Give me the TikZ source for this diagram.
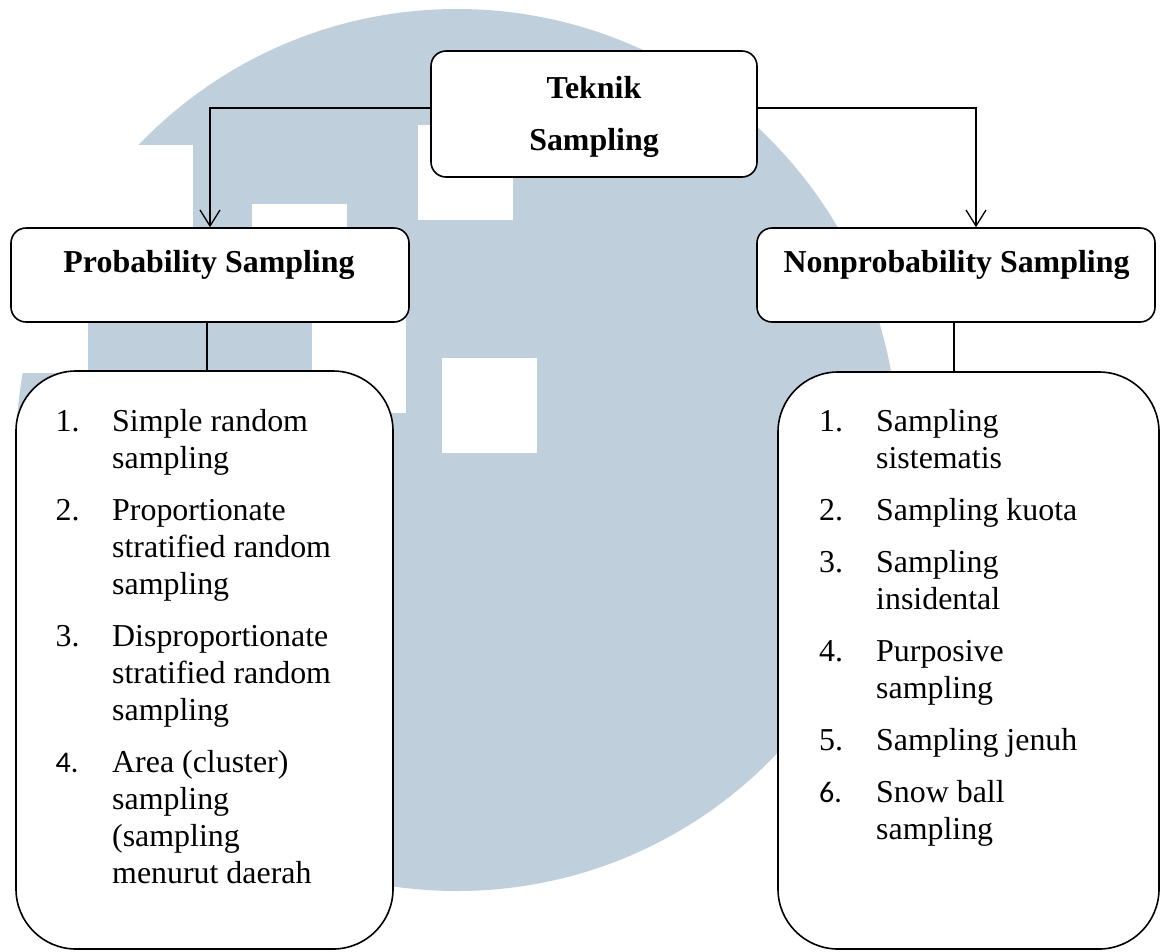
\documentclass[tikz,border=0pt]{standalone}
\usepackage{fontspec}
\setmainfont{Liberation Serif}
\newfontfamily\calfont{Carlito}
\usetikzlibrary{arrows.meta}
\definecolor{wm}{RGB}{192,207,220}
\tikzset{
  box/.style={draw=black, line width=1.6pt, fill=white, rounded corners=15pt, inner sep=0pt},
  listbox/.style={draw=black, line width=1.6pt, fill=white, rounded corners=60pt, inner sep=0pt},
  hdr/.style={font=\fontsize{31.9}{36}\selectfont\bfseries, anchor=base, inner sep=0pt},
  itm/.style={font=\fontsize{31.9}{36}\selectfont, anchor=base west, inner sep=0pt},
  calnum/.style={font=\fontsize{30}{36}\selectfont\calfont, anchor=base west, inner sep=0pt},
  conn/.style={draw=black, line width=1.3pt},
  arr/.style={conn, -{Straight Barb[length=16pt,width=20pt,line width=1.3pt]}},
  wsq/.style={fill=white, draw=none},
}
\begin{document}
\begin{tikzpicture}[x=1pt,y=-1pt]
\useasboundingbox (0,0) rectangle (1162,951);
% watermark
\fill[wm] (457,450) circle[radius=441];
\fill[wsq] (0,145) rectangle (193,250);
\fill[wsq] (0,250) rectangle (88,373);
\fill[wsq] (252,204) rectangle (347,299);
\fill[wsq] (312,318) rectangle (406,413);
\fill[wsq] (418,125) rectangle (513,220);
\fill[wsq] (442,358) rectangle (537,453);
% boxes
\node[box, minimum width=326pt, minimum height=126pt] (T) at (594,114) {};
\node[box, minimum width=398pt, minimum height=94pt] (P) at (210,275) {};
\node[box, minimum width=398pt, minimum height=94pt] (N) at (956,275) {};
\node[listbox, minimum width=377pt, minimum height=578pt] (L) at (204.5,660) {};
\node[listbox, minimum width=381pt, minimum height=577pt] (R) at (968.5,660.5) {};
% headers
\node[hdr] (t1) at (594,98) {Teknik};
\node[hdr] (t2) at (594,150) {Sampling};
\node[hdr] (p1) at (209,272.7) {Probability Sampling};
\node[hdr] (n1) at (956.5,272.7) {Nonprobability Sampling};
% connectors
\coordinate (tl) at ([yshift=6pt]T.west);
\coordinate (tr) at ([yshift=6pt]T.east);
\coordinate (na) at ([xshift=20pt]N.north);
\draw[arr] (tl) -| (P.north);
\draw[arr] (tr) -| (na);
\draw[conn] ([xshift=-3pt]P.south) -- ([xshift=-3pt]P.south |- L.north);
\draw[conn] ([xshift=-2pt]N.south) -- ([xshift=-2pt]N.south |- R.north);
% left list
\node[itm] (ln1) at (55.5,431.6) {1.};
\node[itm] (la1) at (112,431.6) {Simple random};
\node[itm] (la2) at (112,468.6) {sampling};
\node[itm] (ln2) at (55.5,520.6) {2.};
\node[itm] (lb1) at (112,520.6) {Proportionate};
\node[itm] (lb2) at (112,557.6) {stratified random};
\node[itm] (lb3) at (112,594.6) {sampling};
\node[itm] (ln3) at (55.5,646.6) {3.};
\node[itm] (lc1) at (112,646.6) {Disproportionate};
\node[itm] (lc2) at (112,683.6) {stratified random};
\node[itm] (lc3) at (112,720.6) {sampling};
\node[calnum] (ln4) at (55.5,772.6) {4.};
\node[itm] (ld1) at (112,772.6) {Area (cluster)};
\node[itm] (ld2) at (112,809.6) {sampling};
\node[itm] (ld3) at (112,846.6) {(sampling};
\node[itm] (ld4) at (112,883.6) {menurut daerah};
% right list
\node[itm] (rn1) at (819,431.6) {1.};
\node[itm] (ra1) at (876,431.6) {Sampling};
\node[itm] (ra2) at (876,468.6) {sistematis};
\node[itm] (rn2) at (819,520.6) {2.};
\node[itm] (rb1) at (876,520.6) {Sampling kuota};
\node[itm] (rn3) at (819,572.6) {3.};
\node[itm] (rc1) at (876,572.6) {Sampling};
\node[itm] (rc2) at (876,609.6) {insidental};
\node[itm] (rn4) at (819,661.6) {4.};
\node[itm] (rd1) at (876,661.6) {Purposive};
\node[itm] (rd2) at (876,698.6) {sampling};
\node[itm] (rn5) at (819,750.6) {5.};
\node[itm] (re1) at (876,750.6) {Sampling jenuh};
\node[calnum] (rn6) at (819,802.6) {6.};
\node[itm] (rf1) at (876,802.6) {Snow ball};
\node[itm] (rf2) at (876,839.6) {sampling};
\end{tikzpicture}
\end{document}
